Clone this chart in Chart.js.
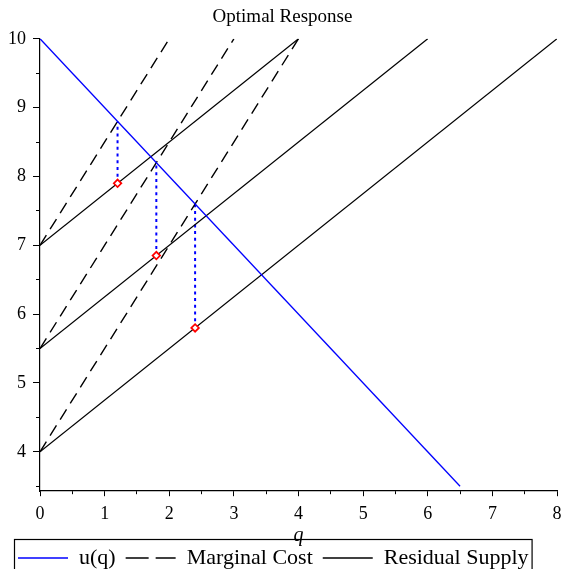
<!DOCTYPE html>
<html>
<head>
<meta charset="utf-8">
<script src="https://cdn.jsdelivr.net/npm/chart.js@4.4.0/dist/chart.umd.min.js"></script>
<style>
  html, body { margin: 0; padding: 0; background: #fff; }
  #caixa { width: 563px; height: 569px; }
</style>
</head>
<body>
<div id="caixa"><canvas id="grafico"></canvas></div>
<script>
// u(q)
const demandaQ = [0, 6.5]
const demandaP = [10, 3.5]

// marginal cost, one line per firm
const custoQ = [[0, 2], [0, 3], [0, 4]]
const custoP = [[7, 10], [5.5, 10], [4, 10]]

// residual supply
const ofertaQ = [[0, 4], [0, 6], [0, 8]]
const ofertaP = [[7, 10], [5.5, 10], [4, 10]]

// optimal responses and u(q) above them
const otimoQ = [1.2, 1.8, 2.4]
const otimoP = [7.9, 6.85, 5.8]
const precoU = [8.8, 8.2, 7.6]

const fonte = 'Liberation Serif'
Chart.defaults.color = '#000'
Chart.defaults.font.family = fonte

function pontos(xs, ys) {
  return xs.map((x, i) => ({ x: x, y: ys[i] }))
}

const conjuntos = [{
  label: 'u(q)',
  data: pontos(demandaQ, demandaP),
  borderColor: '#0000ff',
  borderWidth: 1.3
}]

custoQ.forEach((qs, i) => {
  conjuntos.push({
    label: 'Marginal Cost',
    data: pontos(qs, custoP[i]),
    borderColor: '#000',
    borderWidth: 1.4,
    borderDash: [12, 7]
  })
})

ofertaQ.forEach((qs, i) => {
  conjuntos.push({
    label: 'Residual Supply',
    data: pontos(qs, ofertaP[i]),
    borderColor: '#000',
    borderWidth: 1.2
  })
})

otimoQ.forEach((q, i) => {
  conjuntos.push({
    label: '',
    data: pontos([q, q], [otimoP[i], precoU[i]]),
    borderColor: '#0000ff',
    borderWidth: 2,
    borderDash: [3, 3.7]
  })
})

conjuntos.forEach(c => {
  c.showLine = true
  c.pointRadius = 0
  c.fill = false
})

conjuntos.push({
  label: '',
  data: pontos(otimoQ, otimoP),
  showLine: false,
  pointStyle: 'rectRot',
  pointRadius: 3.8,
  pointBorderWidth: 1.7,
  pointBorderColor: '#ff0000',
  pointBackgroundColor: '#fff',
  order: -1
})

const naLegenda = [0, 1, 4]

const moldura = {
  id: 'moldura',
  afterDraw(chart) {
    const caixas = chart.legend.legendHitBoxes
    if (!caixas || !caixas.length) return
    const ctx = chart.ctx
    const primeira = caixas[0]
    const ultima = caixas[caixas.length - 1]
    const esq = primeira.left - 4
    const dir = ultima.left + ultima.width + 3
    ctx.save()
    ctx.strokeStyle = '#000'
    ctx.lineWidth = 1.2
    ctx.strokeRect(esq + 0.5, primeira.top - 7.5, dir - esq, 60)
    ctx.restore()
  }
}

// ticks are drawn long and cut by the dash, so labels sit away from the axis
const ehInteiro = v => Number.isInteger(v)

new Chart(document.querySelector('#grafico'), {
  type: 'scatter',
  data: { datasets: conjuntos },
  plugins: [moldura],
  options: {
    responsive: true,
    maintainAspectRatio: false,
    animation: false,
    devicePixelRatio: 1,
    layout: { padding: { left: 8, right: 6, top: 0, bottom: -10 } },
    plugins: {
      tooltip: { enabled: false },
      title: {
        display: true,
        text: 'Optimal Response',
        color: '#000',
        font: { family: fonte, size: 19, weight: 'normal' },
        padding: { top: 6, bottom: 10 }
      },
      legend: {
        position: 'bottom',
        align: 'start',
        labels: {
          filter: item => naLegenda.includes(item.datasetIndex),
          generateLabels(chart) {
            const itens = Chart.defaults.plugins.legend.labels.generateLabels(chart)
            itens.forEach(it => {
              it.lineWidth = 1.5
              if (it.text === 'Marginal Cost') it.lineDash = [23, 7]
            })
            return itens
          },
          usePointStyle: true,
          pointStyle: 'line',
          pointStyleWidth: 50,
          padding: 10,
          color: '#000',
          font: { family: fonte, size: 22 }
        }
      }
    },
    scales: {
      x: {
        type: 'linear',
        min: 0,
        max: 8,
        ticks: {
          stepSize: 0.5,
          includeBounds: false,
          autoSkip: false,
          maxRotation: 0,
          padding: 0,
          color: '#000',
          font: { family: fonte, size: 18, lineHeight: 1 },
          callback: v => ehInteiro(v) ? v : ''
        },
        grid: {
          drawOnChartArea: false,
          drawTicks: true,
          tickLength: 14,
          tickColor: '#000',
          tickWidth: 1,
          tickBorderDash: ctx => ehInteiro(ctx.tick.value) ? [5, 30] : [3, 30]
        },
        border: { display: true, color: '#000', width: 1.2 },
        title: {
          display: true,
          text: 'q',
          color: '#000',
          font: { family: fonte, size: 20, style: 'italic', lineHeight: 1 },
          padding: { top: 3, bottom: -9 }
        }
      },
      y: {
        type: 'linear',
        min: 3.43,
        max: 10,
        ticks: {
          stepSize: 0.5,
          includeBounds: false,
          autoSkip: false,
          padding: 0,
          color: '#000',
          font: { family: fonte, size: 18 },
          callback: v => ehInteiro(v) ? v : ''
        },
        grid: {
          drawOnChartArea: false,
          drawTicks: true,
          tickLength: 14,
          tickColor: '#000',
          tickWidth: 1,
          tickBorderDash: ctx => ehInteiro(ctx.tick.value) ? [0, 7, 7, 30] : [0, 10, 4, 30]
        },
        border: { display: true, color: '#000', width: 1.2 }
      }
    }
  }
})
</script>
</body>
</html>
